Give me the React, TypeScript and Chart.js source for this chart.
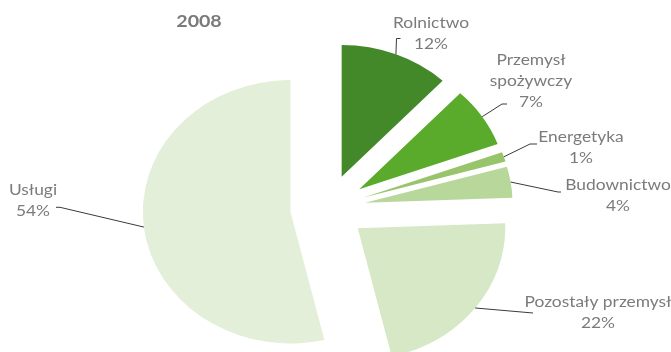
import React, { useEffect, useRef } from 'react';
import { Chart, registerables } from 'chart.js';

Chart.register(...registerables);

// ---- data ----
const categories = ['Rolnictwo', 'Przemysł spożywczy', 'Energetyka', 'Budownictwo', 'Pozostały przemysł', 'Usługi'];
const shares = [12.0, 7.4, 1.2, 3.8, 21.9, 53.7];
const labelLines = [['Rolnictwo'], ['Przemysł', 'spożywczy'], ['Energetyka'], ['Budownictwo'], ['Pozostały przemysł'], ['Usługi']];
const titleText = '2008';

// ---- style / layout ----
const sliceColors = ['#43892a', '#5aab2b', '#98c56c', '#b8d89b', '#d6e8c5', '#e3efd8'];
const W = 671;
const H = 352;
const STRETCH_X = 1.12;
const EXPLODE = 33.6;
const RADIUS = 131.7;
const CENTER_X = 327.8;
const CENTER_Y = 207.9;
const LINE_GAP = 21;
const TEXT_COLOR = '#7b7b7b';
const LEADER_COLOR = '#3a3a3a';

const labelLayout = [
  { x: 431, baseline: 28, elbow: [396.5, 38.5], end: [400.5, 38.5] },
  { x: 531, baseline: 64.5, elbow: [502, 104], end: [507, 104] },
  { x: 581, baseline: 141.5, elbow: [530, 144], end: [537, 144] },
  { x: 618, baseline: 190, elbow: [558, 192], end: [561, 192] },
  { x: 598, baseline: 307, elbow: [533, 313], end: [533, 313] },
  { x: 33, baseline: 195, elbow: [60, 207.3], end: [56, 207.3] },
];

function drawStretchedText(ctx: CanvasRenderingContext2D, text: string, x: number, y: number, font: string, color: string) {
  ctx.save();
  ctx.font = font;
  ctx.fillStyle = color;
  ctx.textAlign = 'center';
  ctx.textBaseline = 'alphabetic';
  ctx.translate(x, y);
  ctx.scale(STRETCH_X, 1);
  ctx.fillText(text, 0, 0);
  ctx.restore();
}

const explodePlugin = {
  id: 'explodeStretch',
  afterDatasetUpdate(chart: any, args: any) {
    args.meta.data.forEach((arc: any) => {
      const mid = (arc.startAngle + arc.endAngle) / 2;
      arc.x += Math.cos(mid) * EXPLODE;
      arc.y += Math.sin(mid) * EXPLODE;
    });
  },
  beforeDatasetsDraw(chart: any) {
    const { ctx, chartArea } = chart;
    const cx = (chartArea.left + chartArea.right) / 2;
    ctx.save();
    ctx.translate(cx, 0);
    ctx.scale(STRETCH_X, 1);
    ctx.translate(-cx, 0);
  },
  afterDatasetsDraw(chart: any) {
    chart.ctx.restore();
  },
};

const labelPlugin = {
  id: 'sliceLabels',
  afterDraw(chart: any) {
    const { ctx, chartArea } = chart;
    const cx = (chartArea.left + chartArea.right) / 2;
    const meta = chart.getDatasetMeta(0);
    ctx.save();
    drawStretchedText(ctx, titleText, 199, 26.7, 'bold 17.5px Lato', '#7a7a7a');
    meta.data.forEach((arc: any, i: number) => {
      const mid = (arc.startAngle + arc.endAngle) / 2;
      const r = arc.outerRadius;
      const ux = arc.x + Math.cos(mid) * r;
      const uy = arc.y + Math.sin(mid) * r;
      const sxp = cx + (ux - cx) * STRETCH_X;
      const lay = labelLayout[i];
      ctx.beginPath();
      ctx.moveTo(sxp, uy);
      ctx.lineTo(lay.elbow[0], lay.elbow[1]);
      ctx.lineTo(lay.end[0], lay.end[1]);
      ctx.strokeStyle = LEADER_COLOR;
      ctx.lineWidth = 1;
      ctx.stroke();
      const lines = [...labelLines[i], Math.round(shares[i]) + '%'];
      lines.forEach((t, k) => {
        drawStretchedText(ctx, t, lay.x, lay.baseline + k * LINE_GAP, '15.5px Lato', TEXT_COLOR);
      });
    });
    ctx.restore();
  },
};

export default function App() {
  const ref = useRef<HTMLCanvasElement>(null);
  useEffect(() => {
    if (!ref.current) return;
    const chart = new Chart(ref.current, {
      type: 'pie',
      data: {
        labels: categories,
        datasets: [
          {
            data: shares,
            backgroundColor: sliceColors,
            borderWidth: 0,
            radius: RADIUS,
          } as any,
        ],
      },
      options: {
        responsive: false,
        animation: false,
        layout: {
          padding: { left: 0, right: W - 2 * CENTER_X, top: 2 * CENTER_Y - H, bottom: 0 },
        },
        plugins: {
          legend: { display: false },
          tooltip: { enabled: false },
          title: { display: false },
        },
      } as any,
      plugins: [explodePlugin, labelPlugin],
    });
    return () => chart.destroy();
  }, []);
  return (
    <div style={{ position: 'absolute', left: 0, top: 0, width: W, height: H, background: '#fff' }}>
      <canvas ref={ref} width={W} height={H} style={{ width: W, height: H, display: 'block' }} />
    </div>
  );
}
